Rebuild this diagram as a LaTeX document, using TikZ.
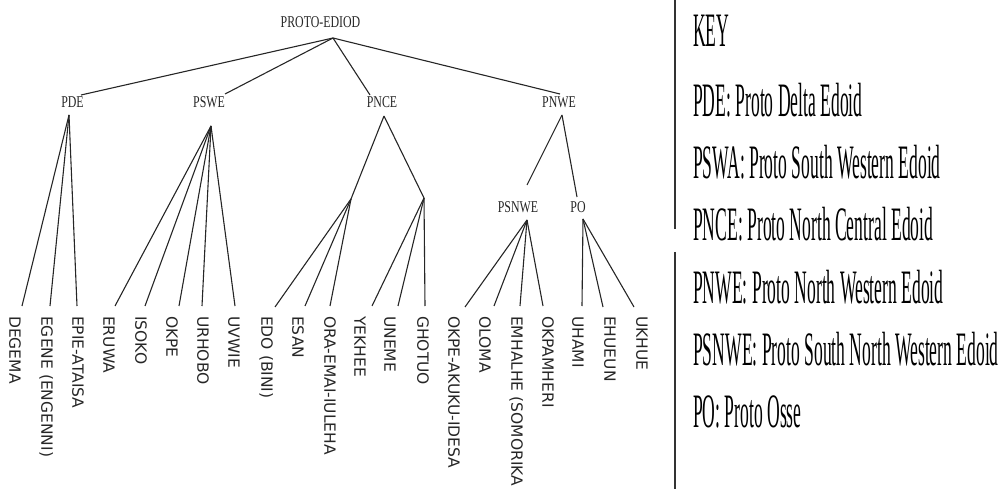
\documentclass[tikz,border=0pt]{standalone}
\usepackage{fontspec}
\newfontfamily\treefont[FakeStretch=0.72]{Liberation Serif}
\newfontfamily\keyfont[FakeStretch=0.366]{Liberation Serif}
\newfontfamily\leaffont{DejaVu Sans}
\begin{document}
\begin{tikzpicture}[x=1pt,y=-1pt,
  inner/.style={font=\treefont\fontsize{16.5}{18}\selectfont, inner sep=0pt, text height=11pt, text depth=0pt, text=black!85},
  leaf/.style={font=\leaffont\fontsize{15.5}{16}\selectfont, rotate=-90, anchor=west, inner sep=0pt, text height=11.3pt, text depth=0pt, text=black!85},
  keyline/.style={font=\keyfont\fontsize{48}{50}\selectfont, anchor=base west, inner sep=0pt, text=black},
  edge/.style={draw=black!85, line width=1.1pt},
  rule/.style={draw=black!80, line width=1.3pt}]
\useasboundingbox (0,0) rectangle (1007,489);

% inner nodes
\node[inner] (root) at (320.5,22) {PROTO-EDIOD};
\node[inner] (pde) at (72.5,102.5) {PDE};
\node[inner] (pswe) at (209,102.5) {PSWE};
\node[inner] (pnce) at (382,102.5) {PNCE};
\node[inner] (pnwe) at (559,102.5) {PNWE};
\node[inner] (psnwe) at (518,207) {PSNWE};
\node[inner] (po) at (578,207) {PO};

% connection points
\coordinate (root-b) at (333,38);
\coordinate (pde-t) at (81,95);
\coordinate (pde-b) at (69,115);
\coordinate (pswe-t) at (225,94);
\coordinate (pswe-b) at (211,126);
\coordinate (pnce-t) at (370,95);
\coordinate (pnce-b) at (384,116);
\coordinate (pnwe-t) at (560,94);
\coordinate (pnwe-b) at (562,115);
\coordinate (ncl) at (351,199);
\coordinate (ncr) at (424,198);
\coordinate (psnwe-t) at (527,185);
\coordinate (psnwe-b) at (527,220);
\coordinate (po-t) at (577,197);
\coordinate (po-b) at (583,219);

\draw[edge] (root-b) -- (pde-t);
\draw[edge] (root-b) -- (pswe-t);
\draw[edge] (root-b) -- (pnce-t);
\draw[edge] (root-b) -- (pnwe-t);
\draw[edge] (pnce-b) -- (ncl);
\draw[edge] (pnce-b) -- (ncr);
\draw[edge] (pnwe-b) -- (psnwe-t);
\draw[edge] (pnwe-b) -- (po-t);

% leaves: name/label x/line end x/line end y/parent point/text
\foreach \n/\lx/\ex/\ey/\p/\t in {
  deg/15/22/306/pde-b/DEGEMA,
  ege/47/50/306/pde-b/EGENE (ENGENNI),
  epi/78/77/306/pde-b/EPIE-ATAISA,
  eru/109/115/306/pswe-b/ERUWA,
  iso/141/145/306/pswe-b/ISOKO,
  okp/172/179/306/pswe-b/OKPE,
  urh/203/202/306/pswe-b/URHOBO,
  uvw/234/235/306/pswe-b/UVWIE,
  edo/267/275/307/ncl/EDO (BINI),
  esa/298/305/306/ncl/ESAN,
  ora/330/330/306/ncl/ORA-EMAI-IULEHA,
  yek/360/372/306/ncr/YEKHEE,
  une/390/398/306/ncr/UNEME,
  gho/423/425/306/ncr/GHOTUO,
  oka/454/465/307/psnwe-b/OKPE-AKUKU-IDESA,
  olo/485/494/306/psnwe-b/OLOMA,
  emh/517/520/306/psnwe-b/EMHALHE (SOMORIKA,
  okm/548/543/306/psnwe-b/OKPAMHERI,
  uha/578/582/306/po-b/UHAMI,
  ehu/610/603/307/po-b/EHUEUN,
  ukh/642/634/307/po-b/UKHUE}{
  \node[leaf] (\n) at (\lx,316) {\t};
  \coordinate (\n-e) at (\ex,\ey);
  \draw[edge] (\p) -- (\n-e);
}

% key
\draw[rule] (675,0) -- (675,229);
\draw[rule] (675,252) -- (675,489);
\node[keyline] (key) at (693,47) {KEY};
\node[keyline] (k1) at (693,117) {PDE: Proto Delta Edoid};
\node[keyline] (k2) at (693,179) {PSWA: Proto South Western Edoid};
\node[keyline] (k3) at (693,241) {PNCE: Proto North Central Edoid};
\node[keyline] (k4) at (693,303) {PNWE: Proto North Western Edoid};
\node[keyline] (k5) at (693,365) {PSNWE: Proto South North Western Edoid};
\node[keyline] (k6) at (693,427) {PO: Proto Osse};
\end{tikzpicture}
\end{document}
